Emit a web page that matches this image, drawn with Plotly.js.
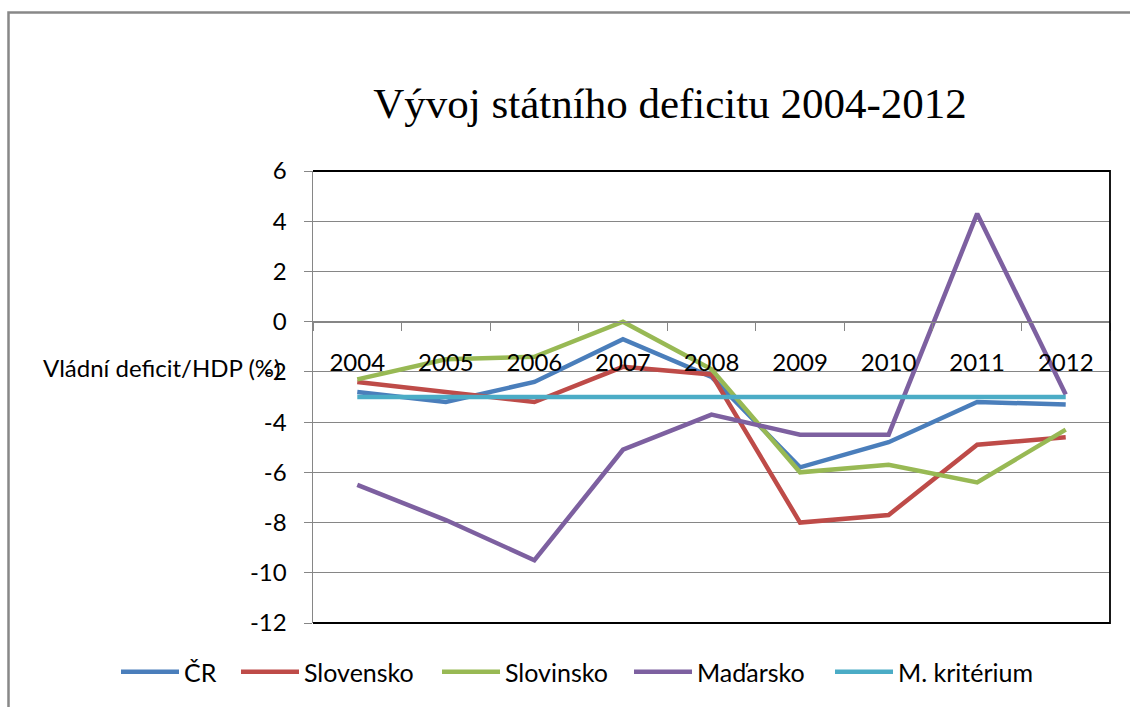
<!DOCTYPE html>
<html>
<head>
<meta charset="utf-8">
<script src="https://cdn.plot.ly/plotly-3.0.1.min.js"></script>
<style>
html,body{margin:0;padding:0;background:#fff;}
#chart{width:1130px;height:707px;}
</style>
</head>
<body>
<div id="chart"></div>
<script>
const years = ["2004","2005","2006","2007","2008","2009","2010","2011","2012"];
const cr        = [-2.8, -3.2, -2.4, -0.7, -2.2, -5.8, -4.8, -3.2, -3.3];
const slovensko = [-2.4, -2.8, -3.2, -1.8, -2.1, -8.0, -7.7, -4.9, -4.6];
const slovinsko = [-2.3, -1.5, -1.4,  0.0, -1.9, -6.0, -5.7, -6.4, -4.3];
const madarsko  = [-6.5, -7.9, -9.5, -5.1, -3.7, -4.5, -4.5,  4.3, -2.9];
const kriterium = [-3, -3, -3, -3, -3, -3, -3, -3, -3];
const seriesNames = ["ČR", "Slovensko", "Slovinsko", "Maďarsko", "M. kritérium"];
const yTicks = [6, 4, 2, 0, -2, -4, -6, -8, -10, -12];
const yTickText = ["6", "4", "2", "0", "-2", "-4", "-6", "-8", "-10", "-12"];

const colors = ["#4A7EBB", "#BE4B48", "#98B954", "#7D60A0", "#4BACC6"];
const W = 1130, H = 707;
const M = {l: 20, r: 20, t: 171, b: 84};
const pw = W - M.l - M.r, ph = H - M.t - M.b;
const px = x => (x - M.l) / pw;
const py = y => (H - M.b - y) / ph;
const PL = 313, PR = 1110;
const legendLeft = [122, 242, 443, 635, 836];  // pixel x where each legend entry starts

const font = "Lato, 'Open Sans', sans-serif";
const allY = [cr, slovensko, slovinsko, madarsko, kriterium];
const legendIds = ["legend", "legend2", "legend3", "legend4", "legend5"];
const traces = allY.map((ys, i) => ({
  type: "scatter", mode: "lines", name: seriesNames[i],
  legend: legendIds[i],
  x: years, y: ys,
  line: {color: colors[i], width: 4.5}
}));

const layout = {
  width: W, height: H,
  margin: M,
  paper_bgcolor: "#fff", plot_bgcolor: "#fff",
  showlegend: true,
  title: {
    text: "Vývoj státního deficitu 2004-2012",
    font: {family: "'Liberation Serif', 'Times New Roman', serif", size: 43, color: "#000"},
    x: 670 / W, xanchor: "center", xref: "container",
    y: 1 - 103 / H, yanchor: "middle", yref: "container"
  },
  xaxis: {
    type: "category",
    domain: [px(PL), px(PR)],
    range: [-0.5, 8.5],
    anchor: "free", position: 12 / 18,
    showline: true, linecolor: "#868686", linewidth: 1,
    ticks: "outside", ticklen: 8, tickcolor: "#868686", tickson: "boundaries",
    showgrid: false, zeroline: false,
    tickfont: {family: font, size: 24, color: "#000"},
    ticklabelstandoff: 20
  },
  yaxis: {
    range: [-12, 6],
    tickvals: yTicks, ticktext: yTickText,
    showline: true, linecolor: "#868686", linewidth: 1.5,
    ticks: "outside", ticklen: 8, tickcolor: "#868686",
    showgrid: true, gridcolor: "#868686", gridwidth: 1,
    zeroline: false,
    tickfont: {family: font, size: 24, color: "#000"},
    ticklabelstandoff: 12
  },
  annotations: [{
    text: "Vládní deficit/HDP (%)",
    xref: "paper", yref: "paper",
    x: px(41), xanchor: "left",
    y: py(367), yanchor: "middle",
    showarrow: false,
    font: {family: font, size: 24, color: "#000"}
  }],
  shapes: [
    {type: "path", xref: "paper", yref: "paper", layer: "above",
     path: `M ${px(PL)} 1 L ${px(PR)} 1 L ${px(PR)} 0 L ${px(PL)} 0`,
     line: {color: "#000", width: 1.8}},
    {type: "path", xref: "paper", yref: "paper", layer: "above",
     path: `M ${px(1140)} ${py(12.5)} L ${px(8.5)} ${py(12.5)} L ${px(8.5)} ${py(720)}`,
     line: {color: "#888", width: 2.5}}
  ]
};

legendIds.forEach((id, i) => {
  layout[id] = {
    orientation: "h",
    xref: "container", yref: "container",
    x: (legendLeft[i] - 6) / W, xanchor: "left",
    y: 1 - 672 / H, yanchor: "middle",
    itemwidth: 58,
    font: {family: font, size: 25, color: "#000"},
    bgcolor: "rgba(0,0,0,0)"
  };
});

Plotly.newPlot("chart", traces, layout, {displayModeBar: false, staticPlot: true});
</script>
</body>
</html>
